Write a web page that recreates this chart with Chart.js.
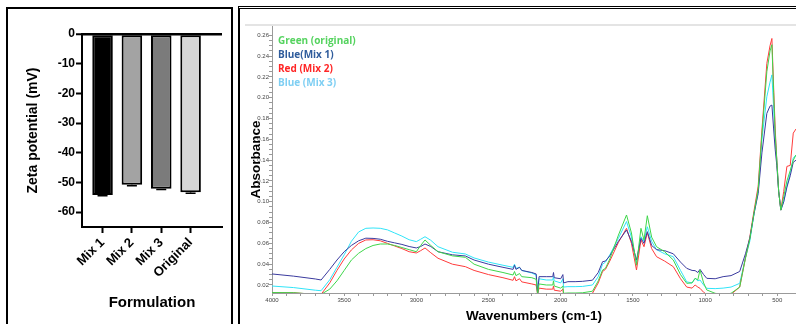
<!DOCTYPE html>
<html>
<head>
<meta charset="utf-8">
<script src="https://cdn.jsdelivr.net/npm/chart.js@4.4.1/dist/chart.umd.min.js"></script>
<style>
  html, body { margin: 0; padding: 0; background: #fff; width: 796px; height: 324px; overflow: hidden; }
  .wrap { position: absolute; }
  #zetaWrap { left: 0; top: 0; width: 236px; height: 324px; }
  #ftirWrap { left: 240px; top: 0; width: 556px; height: 324px; }
  .frame { position: absolute; box-sizing: border-box; pointer-events: none; }
  #leftFrame { left: 6px; top: 7px; width: 227px; height: 340px; border: 2px solid #000; }
  #rightFrame { left: 238px; top: 6px; width: 600px; height: 340px; border-left: 2px solid #000; border-top: 3px double #000; }
  #plotTop { position: absolute; left: 245px; top: 24px; width: 551px; height: 2px; background: #e4e4e4; }
</style>
</head>
<body>
<div class="wrap" id="zetaWrap"><canvas id="zetaChart"></canvas></div>
<div class="wrap" id="ftirWrap"><canvas id="ftirChart"></canvas></div>
<div id="plotTop"></div>
<div class="frame" id="leftFrame"></div>
<div class="frame" id="rightFrame"></div>
<script>
// zeta potential bars
const formulations = ['Mix 1', 'Mix 2', 'Mix 3', 'Original'];
const zetaMean = [-54.2, -50.8, -52.1, -53.3];
const zetaSd = [0.3, 0.3, 0.3, 0.3];
const barColors = ['#000000', '#a3a3a3', '#7b7b7b', '#d6d6d6'];

// FTIR spectra
const wavenumbers = [
    4000, 3850, 3700, 3660, 3600, 3550, 3500, 3450, 3400, 3350,
    3300, 3250, 3200, 3150, 3100, 3050, 3000, 2970, 2940, 2900,
    2850, 2750, 2660, 2600, 2500, 2400, 2330, 2320, 2310, 2285,
    2270, 2200, 2170, 2160, 2150, 2100, 2055, 2050, 2045, 2000,
    1985, 1980, 1950, 1900, 1850, 1780, 1740, 1710, 1690, 1660,
    1600, 1544, 1510, 1475, 1444, 1423, 1400, 1370, 1336, 1280,
    1220, 1170, 1127, 1090, 1069, 1050, 1035, 1010, 988, 930,
    875, 820, 760, 720, 690, 660, 632, 606, 572, 550,
    537, 525, 514, 503, 490, 475, 455, 433, 410, 389,
    370
];
const absOriginal = [
    0.0127, 0.0126, 0.011, 0.011, 0.016, 0.024, 0.034, 0.044, 0.0505, 0.055,
    0.058, 0.0594, 0.0594, 0.058, 0.056, 0.054, 0.052, 0.058, 0.0633, 0.058,
    0.052, 0.048, 0.0466, 0.040, 0.035, 0.032, 0.0296, 0.033, 0.029, 0.031,
    0.028, 0.027, 0.0255, 0.011, 0.021, 0.020, 0.020, 0.024, 0.019, 0.017,
    0.019, 0.012, 0.0123, 0.0123, 0.0125, 0.014, 0.024, 0.0344, 0.036, 0.045,
    0.068, 0.0873, 0.070, 0.039, 0.0745, 0.0633, 0.0866, 0.066, 0.0568, 0.052,
    0.044, 0.030, 0.0216, 0.022, 0.0264, 0.025, 0.0344, 0.022, 0.0152, 0.012,
    0.011, 0.012, 0.018, 0.046, 0.064, 0.09, 0.112, 0.165, 0.225, 0.245,
    0.251, 0.205, 0.165, 0.14, 0.11, 0.092, 0.105, 0.12, 0.13, 0.14,
    0.145
];
const absMix1 = [
    0.0306, 0.0285, 0.0258, 0.0248, 0.035, 0.044, 0.052, 0.058, 0.0625, 0.065,
    0.0648, 0.064, 0.062, 0.0605, 0.059, 0.057, 0.0556, 0.057, 0.0594, 0.057,
    0.052, 0.049, 0.0479, 0.044, 0.040, 0.037, 0.035, 0.039, 0.035, 0.037,
    0.034, 0.032, 0.0306, 0.012, 0.028, 0.028, 0.028, 0.032, 0.027, 0.026,
    0.030, 0.022, 0.0232, 0.0232, 0.0235, 0.0246, 0.032, 0.0424, 0.043, 0.048,
    0.062, 0.0729, 0.062, 0.044, 0.0649, 0.060, 0.0713, 0.058, 0.054, 0.053,
    0.050, 0.042, 0.036, 0.034, 0.0338, 0.032, 0.035, 0.030, 0.0264, 0.026,
    0.028, 0.029, 0.033, 0.050, 0.065, 0.089, 0.108, 0.147, 0.185, 0.192,
    0.193, 0.17, 0.15, 0.135, 0.11, 0.092, 0.10, 0.114, 0.125, 0.138,
    0.14
];
const absMix2 = [
    0.0127, 0.0125, 0.011, 0.011, 0.022, 0.034, 0.045, 0.0537, 0.060, 0.0633,
    0.0635, 0.0625, 0.060, 0.0575, 0.055, 0.052, 0.0508, 0.053, 0.0556, 0.051,
    0.0457, 0.040, 0.0376, 0.034, 0.030, 0.027, 0.0245, 0.028, 0.024, 0.026,
    0.023, 0.021, 0.020, 0.011, 0.017, 0.016, 0.016, 0.019, 0.015, 0.014,
    0.016, 0.010, 0.010, 0.010, 0.010, 0.012, 0.022, 0.033, 0.035, 0.043,
    0.061, 0.0745, 0.060, 0.0344, 0.0633, 0.0568, 0.0703, 0.055, 0.0472, 0.043,
    0.0376, 0.026, 0.018, 0.017, 0.020, 0.018, 0.0168, 0.013, 0.011, 0.010,
    0.010, 0.011, 0.018, 0.046, 0.066, 0.092, 0.115, 0.169, 0.233, 0.25,
    0.257, 0.21, 0.17, 0.14, 0.11, 0.092, 0.11, 0.134, 0.135, 0.166,
    0.17
];
const absMix3 = [
    0.019, 0.0175, 0.015, 0.0145, 0.025, 0.037, 0.049, 0.062, 0.071, 0.0745,
    0.0748, 0.0745, 0.073, 0.070, 0.067, 0.0635, 0.0617, 0.064, 0.0664, 0.063,
    0.0568, 0.0515, 0.0498, 0.046, 0.042, 0.039, 0.037, 0.040, 0.036, 0.037,
    0.034, 0.0315, 0.0296, 0.012, 0.026, 0.0248, 0.0248, 0.028, 0.024, 0.022,
    0.026, 0.018, 0.0184, 0.0184, 0.0186, 0.020, 0.028, 0.040, 0.042, 0.049,
    0.065, 0.081, 0.066, 0.041, 0.0664, 0.062, 0.076, 0.062, 0.054, 0.050,
    0.0472, 0.034, 0.023, 0.022, 0.0264, 0.024, 0.0248, 0.020, 0.0168, 0.0165,
    0.017, 0.018, 0.0216, 0.046, 0.062, 0.089, 0.11, 0.16, 0.201, 0.215,
    0.222, 0.19, 0.16, 0.14, 0.11, 0.092, 0.10, 0.115, 0.128, 0.142,
    0.145
];
const seriesLabels = ['Green (original)', 'Blue(Mix 1)', 'Red (Mix 2)', 'Blue (Mix 3)'];
const legendColors = ['#55d35f', '#2f5c9c', '#ff2626', '#7fcff3'];
const lineColors = ['#3ed64a', '#3a3a9e', '#ff3b3b', '#30e4f8'];

Chart.defaults.font.family = '"Liberation Sans", Arial, sans-serif';
Chart.defaults.animation = false;

const isStep = (v, s) => Math.abs(v / s - Math.round(v / s)) < 1e-6;

// little error caps under each bar
const errorBars = {
    id: 'errorBars',
    afterDatasetsDraw(chart) {
        const { ctx, scales: { x, y } } = chart;
        ctx.save();
        ctx.strokeStyle = '#000';
        ctx.lineWidth = 1.5;
        zetaMean.forEach((v, i) => {
            const px = x.getPixelForValue(i);
            const y0 = y.getPixelForValue(v);
            const y1 = y.getPixelForValue(v - zetaSd[i]);
            ctx.beginPath();
            ctx.moveTo(px, y0);
            ctx.lineTo(px, y1);
            ctx.moveTo(px - 5, y1);
            ctx.lineTo(px + 5, y1);
            ctx.stroke();
        });
        ctx.restore();
    }
};

new Chart(document.getElementById('zetaChart'), {
    type: 'bar',
    data: {
        datasets: [{
            data: zetaMean.map((v, i) => ({ x: i, y: v })),
            backgroundColor: barColors,
            borderColor: '#000',
            borderWidth: 2,
            borderSkipped: false,
            barPercentage: 0.7,
            categoryPercentage: 1
        }]
    },
    options: {
        responsive: true,
        maintainAspectRatio: false,
        layout: { padding: { top: 34, right: 14, left: 0, bottom: 0 } },
        plugins: { legend: { display: false }, tooltip: { enabled: false } },
        scales: {
            x: {
                type: 'linear',
                offset: false,
                min: -0.7,
                max: 4.07,
                afterBuildTicks: axis => {
                    axis.ticks = formulations.map((f, i) => ({ value: i }));
                },
                afterFit: scale => { scale.height = 97; },
                ticks: {
                    autoSkip: false,
                    maxRotation: 45,
                    minRotation: 45,
                    padding: 2,
                    color: '#000',
                    font: { size: 13, weight: 'bold' },
                    callback: v => formulations[v]
                },
                grid: { offset: false, drawOnChartArea: false, tickLength: 6, tickColor: '#000', tickWidth: 2 },
                border: { color: '#000', width: 2 },
                title: {
                    display: true,
                    text: 'Formulation',
                    color: '#000',
                    font: { size: 15, weight: 'bold' },
                    padding: { top: 0, bottom: 12 }
                }
            },
            y: {
                min: -65,
                max: 0,
                afterBuildTicks: axis => {
                    axis.ticks = axis.ticks.filter(t => isStep(t.value, 10));
                },
                afterFit: scale => { scale.width = 82; },
                ticks: {
                    stepSize: 10,
                    padding: 1,
                    color: '#000',
                    font: { size: 12, weight: 'bold' }
                },
                grid: {
                    color: c => c.tick && c.tick.value === 0 ? '#000' : 'rgba(0,0,0,0)',
                    lineWidth: c => c.tick && c.tick.value === 0 ? 2.5 : 1,
                    tickColor: '#000',
                    tickWidth: 2,
                    tickLength: 6
                },
                border: { color: '#000', width: 2 },
                title: {
                    display: true,
                    text: 'Zeta potential (mV)',
                    color: '#000',
                    font: { size: 14, weight: 'bold' },
                    padding: { top: 25, bottom: 0 }
                }
            }
        }
    },
    plugins: [errorBars]
});

// coloured text legend in the upper left of the spectrum
const textLegend = {
    id: 'textLegend',
    afterDraw(chart) {
        const { ctx, chartArea } = chart;
        ctx.save();
        ctx.font = 'bold 10px "Open Sans", sans-serif';
        ctx.textBaseline = 'middle';
        seriesLabels.forEach((label, i) => {
            ctx.fillStyle = legendColors[i];
            ctx.fillText(label, chartArea.left + 6, chartArea.top + 15 + i * 14);
        });
        ctx.restore();
    }
};

const spectra = [absOriginal, absMix1, absMix2, absMix3];

new Chart(document.getElementById('ftirChart'), {
    type: 'line',
    data: {
        datasets: spectra.map((s, k) => ({
            label: seriesLabels[k],
            data: wavenumbers.map((w, i) => ({ x: w, y: s[i] })),
            borderColor: lineColors[k],
            borderWidth: 1,
            pointRadius: 0,
            tension: 0
        }))
    },
    options: {
        responsive: true,
        maintainAspectRatio: false,
        layout: { padding: { top: 26, right: 0, left: 0, bottom: 0 } },
        plugins: { legend: { display: false }, tooltip: { enabled: false } },
        scales: {
            x: {
                type: 'linear',
                reverse: true,
                min: 370,
                max: 4000,
                afterBuildTicks: axis => {
                    axis.ticks = axis.ticks.filter(t => isStep(t.value, 100));
                },
                afterFit: scale => { scale.height = 31; },
                ticks: {
                    stepSize: 100,
                    autoSkip: false,
                    maxRotation: 0,
                    padding: 1,
                    color: '#444',
                    font: { size: 6 },
                    callback: v => isStep(v, 500) ? String(v) : ''
                },
                grid: { drawOnChartArea: false, tickLength: 3, color: '#9a9a9a' },
                border: { color: '#9a9a9a', width: 1 },
                title: {
                    display: true,
                    text: 'Wavenumbers (cm-1)',
                    color: '#000',
                    font: { size: 13.5, weight: 'bold' },
                    padding: { top: 0, bottom: 0 }
                }
            },
            y: {
                min: 0.0123,
                max: 0.269,
                afterBuildTicks: axis => {
                    axis.ticks = axis.ticks.filter(t => isStep(t.value, 0.005));
                },
                afterFit: scale => { scale.width = 32; },
                ticks: {
                    stepSize: 0.005,
                    autoSkip: false,
                    padding: 0,
                    color: '#444',
                    font: { size: 6 },
                    callback: v => isStep(v, 0.02) ? v.toFixed(2) : ''
                },
                grid: { drawOnChartArea: false, tickLength: 3, color: '#9a9a9a' },
                border: { color: '#9a9a9a', width: 1 },
                title: {
                    display: true,
                    text: 'Absorbance',
                    color: '#000',
                    font: { size: 13.5, weight: 'bold' },
                    padding: { top: 8, bottom: 0 }
                }
            }
        }
    },
    plugins: [textLegend]
});
</script>
</body>
</html>
